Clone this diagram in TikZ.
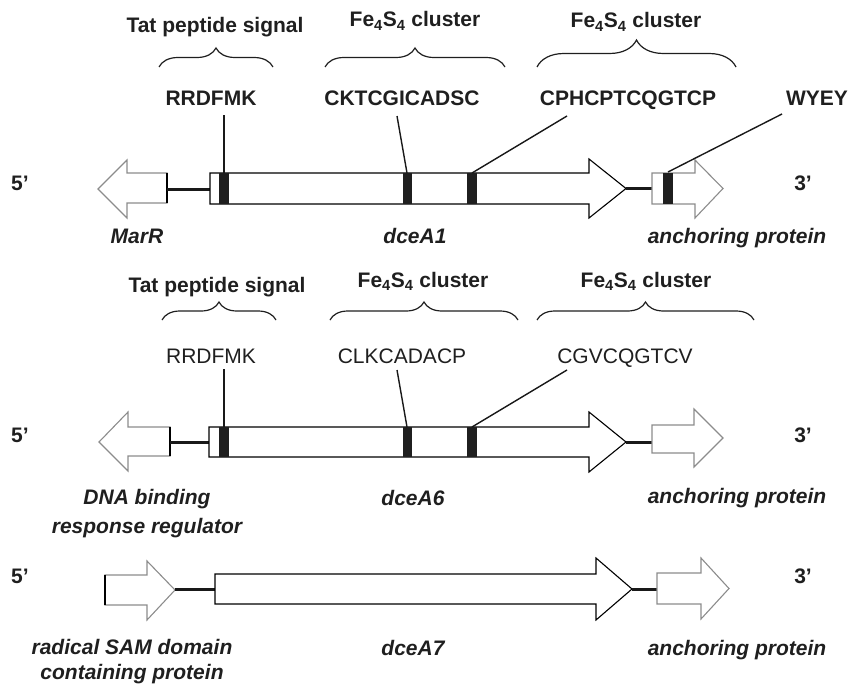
\documentclass[tikz,border=0pt]{standalone}
\usepackage{fontspec}
\setmainfont{Liberation Sans}
\usetikzlibrary{decorations.pathreplacing}
\tikzset{
  gene/.style={draw=black, line width=1.1pt, fill=white, line join=miter},
  flank/.style={draw=black!45, line width=1.1pt, fill=white, line join=miter},
  bar/.style={fill=black!88, draw=none},
  link/.style={line width=3pt, draw=black!90},
  lead/.style={line width=1.4pt, draw=black!90},
  edge/.style={line width=1.2pt, draw=black},
  hdr/.style={font=\fontsize{21}{25}\selectfont\bfseries, anchor=base, inner sep=0pt, text=black!88},
  seqb/.style={font=\fontsize{21}{25}\selectfont\bfseries, anchor=base, inner sep=0pt, text=black!88},
  seqn/.style={font=\fontsize{21}{25}\selectfont, anchor=base, inner sep=0pt, text=black!88},
  glab/.style={font=\fontsize{21}{29}\selectfont\bfseries\itshape, inner sep=0pt, text=black!88, align=center},
  brc/.style={decorate, decoration={brace, amplitude=#1}, line width=1.2pt, draw=black!88},
}
\begin{document}
\begin{tikzpicture}[x=1pt,y=-1pt]
\useasboundingbox (0,0) rectangle (848,685);

% ================= Row 1 =================
\node[hdr] (h1a) at (215,33) {Tat peptide signal};
\node[hdr] (h1b) at (415,27) {Fe\textsubscript{4}S\textsubscript{4} cluster};
\node[hdr] (h1c) at (636,28) {Fe\textsubscript{4}S\textsubscript{4} cluster};
\draw[brc=19pt] (159,67) -- (273,67);
\draw[brc=19pt] (325,67) -- (505,67);
\draw[brc=27pt] (537,67) -- (736,67);

\node[seqb] (s1a) at (211,105) {RRDFMK};
\node[seqb] (s1b) at (402,105) {CKTCGICADSC};
\node[seqb] (s1c) at (628,105) {CPHCPTCQGTCP};
\node[seqb] (s1d) at (817,105) {WYEY};

\node[seqb] (p5a) at (20,190) {5\textquoteright};
\node[seqb] (p3a) at (803,190) {3\textquoteright};

% flanking MarR
\draw[flank] (167,173) -- (127,173) -- (127,160) -- (98,189) -- (127,218) -- (127,203) -- (167,203) -- cycle;
\draw[edge] (167,173) -- (167,203);
\coordinate (m1l) at (167,189);
\coordinate (g1l) at (210,189);
\draw[link] (m1l) -- (g1l);
% dceA1
\draw[gene] (210,173) -- (589,173) -- (589,159) -- (626,188.5) -- (589,218) -- (589,204) -- (210,204) -- cycle;
\fill[bar] (219,173) rectangle (229,204);
\fill[bar] (403,173) rectangle (412,204);
\fill[bar] (467,173) rectangle (477,204);
\coordinate (g1r) at (626,188.5);
\coordinate (a1l) at (652,188.5);
\draw[link] (g1r) -- (a1l);
% anchoring
\draw[flank] (652,173) -- (695,173) -- (695,160) -- (723,188.5) -- (695,218) -- (695,204) -- (652,204) -- cycle;
\fill[bar] (663,173) rectangle (673,204);

% leaders
\coordinate (l1a) at (224,115); \coordinate (b1a) at (224,173);
\coordinate (l1b) at (397,116); \coordinate (b1b) at (407,173);
\coordinate (l1c) at (567,116); \coordinate (b1c) at (472,173);
\coordinate (l1d) at (782,114); \coordinate (b1d) at (668,172);
\draw[lead] (l1a) -- (b1a);
\draw[lead] (l1b) -- (b1b);
\draw[lead] (l1c) -- (b1c);
\draw[lead] (l1d) -- (b1d);

\node[glab, anchor=base] (n1a) at (137,243) {MarR};
\node[glab, anchor=base] (n1b) at (415,243) {dceA1};
\node[glab, anchor=base] (n1c) at (737,243) {anchoring protein};

% ================= Row 2 =================
\node[hdr] (h2a) at (217,292) {Tat peptide signal};
\node[hdr] (h2b) at (423,287) {Fe\textsubscript{4}S\textsubscript{4} cluster};
\node[hdr] (h2c) at (646,287) {Fe\textsubscript{4}S\textsubscript{4} cluster};
\draw[brc=18pt] (162,320) -- (276,320);
\draw[brc=18pt] (330,320) -- (518,320);
\draw[brc=18pt] (537,320) -- (754,320);

\node[seqn] (s2a) at (211,363) {RRDFMK};
\node[seqn] (s2b) at (402,363) {CLKCADACP};
\node[seqn] (s2c) at (625,363) {CGVCQGTCV};

\node[seqb] (p5b) at (20,442) {5\textquoteright};
\node[seqb] (p3b) at (803,442) {3\textquoteright};

\draw[flank] (170,427) -- (128,427) -- (128,412) -- (99,442) -- (128,471) -- (128,456) -- (170,456) -- cycle;
\draw[edge] (170,427) -- (170,456);
\coordinate (m2l) at (170,442);
\coordinate (g2l) at (209,442);
\draw[link] (m2l) -- (g2l);
\draw[gene] (209,427) -- (589,427) -- (589,412) -- (626,442) -- (589,472) -- (589,457) -- (209,457) -- cycle;
\fill[bar] (219,427) rectangle (229,457);
\fill[bar] (403,427) rectangle (412,457);
\fill[bar] (467,427) rectangle (477,457);
\coordinate (g2r) at (626,442);
\coordinate (a2l) at (652,442);
\draw[link] (g2r) -- (a2l);
\draw[flank] (652,425) -- (694,425) -- (694,409) -- (723,438) -- (694,467) -- (694,453) -- (652,453) -- cycle;

\coordinate (l2a) at (224,369); \coordinate (b2a) at (224,427);
\coordinate (l2b) at (397,370); \coordinate (b2b) at (407,427);
\coordinate (l2c) at (567,370); \coordinate (b2c) at (472,427);
\draw[lead] (l2a) -- (b2a);
\draw[lead] (l2b) -- (b2b);
\draw[lead] (l2c) -- (b2c);

\node[glab, anchor=north] (n2a) at (147,489) {DNA binding\\response regulator};
\node[glab, anchor=base] (n2b) at (413,505) {dceA6};
\node[glab, anchor=base] (n2c) at (737,503) {anchoring protein};

% ================= Row 3 =================
\node[seqb] (p5c) at (20,583) {5\textquoteright};
\node[seqb] (p3c) at (803,583) {3\textquoteright};

\draw[flank] (105,575) -- (147,575) -- (147,561) -- (175,590) -- (147,620) -- (147,605) -- (105,605) -- cycle;
\draw[edge] (105,575) -- (105,605);
\coordinate (m3r) at (175,589.5);
\coordinate (g3l) at (215,589.5);
\draw[link] (m3r) -- (g3l);
\draw[gene] (215,574) -- (596,574) -- (596,558) -- (632,589) -- (596,620) -- (596,604) -- (215,604) -- cycle;
\coordinate (g3r) at (632,589);
\coordinate (a3l) at (657,589);
\draw[link] (g3r) -- (a3l);
\draw[flank] (657,573) -- (701,573) -- (701,558) -- (729,588.5) -- (701,619) -- (701,604) -- (657,604) -- cycle;

\node[glab, anchor=north, font=\fontsize{21}{25.5}\selectfont\bfseries\itshape] (n3a) at (132,639) {radical SAM domain\\containing protein};
\node[glab, anchor=base] (n3b) at (413,655) {dceA7};
\node[glab, anchor=base] (n3c) at (737,655) {anchoring protein};
\end{tikzpicture}
\end{document}
